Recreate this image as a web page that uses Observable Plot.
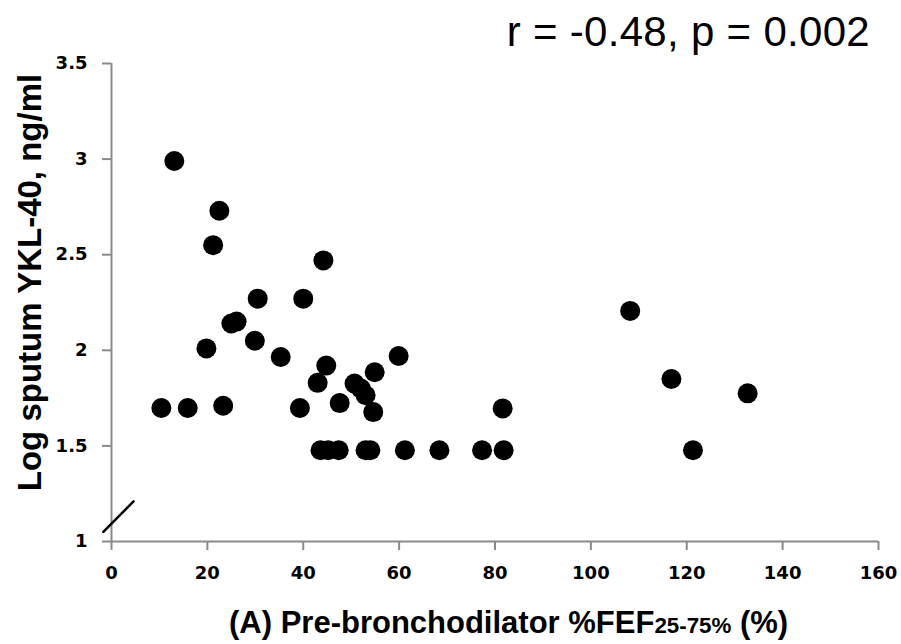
<!DOCTYPE html>
<html>
<head>
<meta charset="utf-8">
<script src="https://cdn.jsdelivr.net/npm/d3@7"></script>
<script src="https://cdn.jsdelivr.net/npm/@observablehq/plot@0.6"></script>
<style>
  html, body { margin: 0; padding: 0; background: #fff; }
  #wrap { position: relative; width: 901px; height: 644px; overflow: hidden; background: #fff; }
  #title { position: absolute; right: 31px; top: 11px; font: 42px/42px "Liberation Sans", Arial, sans-serif; letter-spacing: 0.3px; color: #000; white-space: nowrap; }
  #chart { position: absolute; left: 0; top: 55px; }
  #xlabel { position: absolute; left: 229px; top: 603px; font: bold 31px/40px "Liberation Sans", Arial, sans-serif; color: #000; white-space: nowrap; }
  #xlabel span { font-size: 0.72em; }
</style>
</head>
<body>
<div id="wrap">
  <div id="title">r = -0.48, p = 0.002</div>
  <div id="chart"></div>
  <div id="xlabel">(A) Pre-bronchodilator %FEF<span>25-75%</span> (%)</div>
</div>
<script>
// Data
const fefPercent = [
  13.1, 22.5, 21.2, 44.2, 30.5, 40.0, 25.0, 26.1, 29.9, 19.8,
  35.3, 44.8, 43.0, 54.9, 59.9, 50.7, 52.0, 53.0, 47.6, 54.6,
  10.4, 15.9, 23.3, 39.3, 81.6, 108.2, 116.8, 132.7, 121.3,
  43.6, 45.2, 47.4, 53.0, 54.0, 61.2, 68.4, 77.3, 81.8
];
const logYKL40 = [
  2.99, 2.73, 2.55, 2.47, 2.27, 2.27, 2.14, 2.15, 2.05, 2.01,
  1.965, 1.92, 1.83, 1.885, 1.97, 1.826, 1.80, 1.765, 1.724, 1.677,
  1.698, 1.698, 1.71, 1.698, 1.696, 2.206, 1.85, 1.775, 1.477,
  1.477, 1.477, 1.477, 1.477, 1.477, 1.477, 1.477, 1.477, 1.477
];
const xTicks = [0, 20, 40, 60, 80, 100, 120, 140, 160];
const yTicks = [1, 1.5, 2, 2.5, 3, 3.5];
const yLabel = ["Log sputum YKL-40, ng/ml"];
// axis-break slash (data units)
const breakX = [-1.7, 4.6];
const breakY = [1.05, 1.21];

const points = fefPercent.map((x, i) => ({x, y: logYKL40[i]}));
const breakLine = breakX.map((x, i) => ({x, y: breakY[i]}));

const axisColor = "#8a8a8a";

const chart = Plot.plot({
  width: 901,
  height: 548,
  marginLeft: 111,
  marginRight: 23,
  marginTop: 8,
  marginBottom: 62,
  x: {domain: [0, 160]},
  y: {domain: [1, 3.5]},
  style: {fontFamily: "DejaVu Sans", background: "white", overflow: "visible"},
  marks: [
    Plot.ruleY([1], {stroke: axisColor, strokeWidth: 2}),
    Plot.ruleX([0], {stroke: axisColor, strokeWidth: 2}),
    Plot.axisX({
      ticks: xTicks, tickSize: 9, tickPadding: 16,
      stroke: axisColor, strokeWidth: 2, fill: "black",
      fontSize: 18, fontWeight: "bold", fontFamily: "DejaVu Sans",
      label: null, tickFormat: d => String(d)
    }),
    Plot.axisY({
      ticks: yTicks, tickSize: 9, tickPadding: 15,
      stroke: axisColor, strokeWidth: 2, fill: "black",
      fontSize: 18, fontWeight: "bold", fontFamily: "DejaVu Sans",
      label: null, tickFormat: d => String(d)
    }),
    Plot.line(breakLine, {x: "x", y: "y", stroke: "black", strokeWidth: 2.5}),
    Plot.dot(points, {x: "x", y: "y", r: 10, fill: "black"}),
    Plot.text(yLabel, {
      text: d => d, frameAnchor: "left", textAnchor: "middle", rotate: -90, dx: -81, dy: -20,
      fontSize: 33, fontWeight: "bold", fontFamily: "Liberation Sans", fill: "black"
    })
  ]
});
document.getElementById("chart").appendChild(chart);
</script>
</body>
</html>
